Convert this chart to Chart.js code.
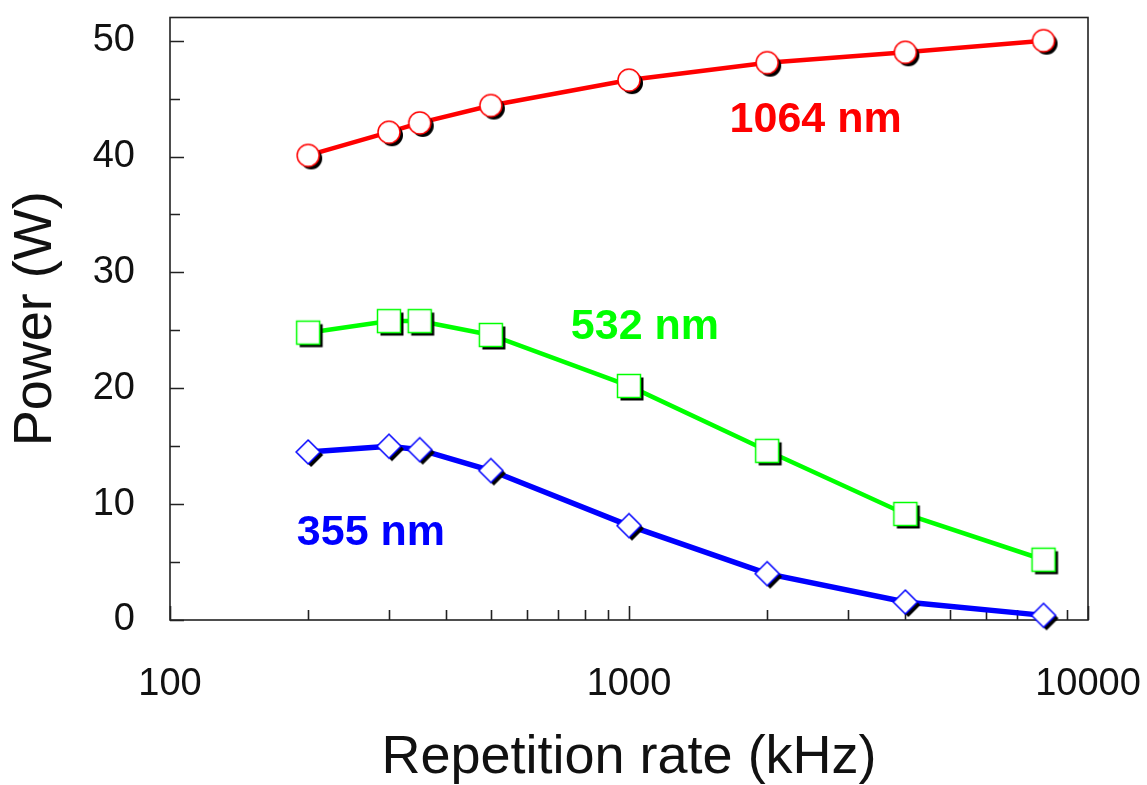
<!DOCTYPE html>
<html><head><meta charset="utf-8">
<script src="https://cdn.jsdelivr.net/npm/chart.js@4"></script>
<style>html,body{margin:0;padding:0;background:#fff;}#wrap{width:1147px;height:785px;}</style>
</head><body><div id="wrap"><canvas id="c" width="1147" height="785"></canvas></div>
<script>
// ---- data ----
const repetitionRates = [200, 300, 350, 500, 1000, 2000, 4000, 8000];
const power1064 = [40.1, 42.1, 42.9, 44.4, 46.6, 48.1, 49.0, 50.0];
const power532  = [24.8, 25.8, 25.8, 24.6, 20.2, 14.6, 9.15, 5.2];
const power355  = [14.5, 15.0, 14.7, 12.9, 8.15, 4.0, 1.55, 0.4];
const seriesNames = ['1064 nm', '532 nm', '355 nm'];
const seriesColors = ['#ff0000', '#00ff00', '#0000ff'];
const labelAtRate = [2550, 1083, 274];
const labelAtPower = [43.1, 25.3, 7.5];
const xTickValues = [100,200,300,400,500,600,700,800,900,1000,2000,3000,4000,5000,6000,7000,8000,9000,10000];
const xTickLabels = ['100', '1000', '10000'];
const yTickValues = [0,5,10,15,20,25,30,35,40,45,50];
const yTickLabels = ['0', '10', '20', '30', '40', '50'];

const FONT = '"Liberation Sans", Arial, sans-serif';

function makeMarker(shape, color) {
  const s = 40, c = document.createElement('canvas');
  c.width = s; c.height = s;
  const ctx = c.getContext('2d');
  const cx = s / 2, cy = s / 2;
  function path(ox, oy) {
    ctx.beginPath();
    if (shape === 'circle') {
      ctx.arc(cx + ox, cy + oy, 11, 0, Math.PI * 2);
    } else if (shape === 'square') {
      ctx.rect(cx + ox - 11.5, cy + oy - 11.5, 23, 23);
    } else {
      const h = 12;
      ctx.moveTo(cx + ox, cy + oy - h);
      ctx.lineTo(cx + ox + h, cy + oy);
      ctx.lineTo(cx + ox, cy + oy + h);
      ctx.lineTo(cx + ox - h, cy + oy);
      ctx.closePath();
    }
  }
  path(3, 3); ctx.fillStyle = '#000'; ctx.fill();
  path(0, 0); ctx.fillStyle = '#fff'; ctx.fill();
  ctx.lineWidth = 1.5; ctx.strokeStyle = color; ctx.stroke();
  return c;
}

const markers = [makeMarker('circle', seriesColors[0]), makeMarker('square', seriesColors[1]), makeMarker('diamond', seriesColors[2])];
const seriesValues = [power1064, power532, power355];
const lineWidths = [4.5, 4.5, 5.5];

const datasets = seriesValues.map((vals, i) => ({
  label: seriesNames[i],
  data: repetitionRates.map((r, j) => ({x: r, y: vals[j]})),
  borderColor: seriesColors[i],
  backgroundColor: seriesColors[i],
  borderWidth: lineWidths[i],
  pointStyle: markers[i],
  pointRadius: 12,
  tension: 0,
  clip: false
}));

function noPad(s) { s.paddingTop = 0; s.paddingBottom = 0; s.paddingLeft = 0; s.paddingRight = 0; }

const framePlugin = {
  id: 'frame',
  beforeDatasetsDraw(chart) {
    const {ctx, chartArea: a, scales: {x, y}} = chart;
    ctx.save();
    ctx.strokeStyle = '#222';
    ctx.lineWidth = 1.6;
    ctx.strokeRect(a.left, a.top, a.right - a.left, a.bottom - a.top);
    ctx.beginPath();
    xTickValues.forEach(v => {
      const px = Math.round(x.getPixelForValue(v)) + 0.5;
      const lg = Math.log10(v);
      const len = Math.abs(lg - Math.round(lg)) < 1e-9 ? 14 : 10;
      ctx.moveTo(px, a.bottom); ctx.lineTo(px, a.bottom - len);
    });
    yTickValues.forEach(v => {
      const py = Math.round(y.getPixelForValue(v)) + 0.5;
      const len = v % 10 === 0 ? 14 : 10;
      ctx.moveTo(a.left, py); ctx.lineTo(a.left + len, py);
    });
    ctx.stroke();
    ctx.font = 'bold 43px ' + FONT;
    ctx.textAlign = 'center';
    ctx.textBaseline = 'middle';
    seriesNames.forEach((n, i) => {
      ctx.fillStyle = seriesColors[i];
      ctx.fillText(n, x.getPixelForValue(labelAtRate[i]), y.getPixelForValue(labelAtPower[i]));
    });
    ctx.restore();
  }
};

new Chart(document.getElementById('c'), {
  type: 'line',
  data: {datasets},
  options: {
    responsive: false,
    animation: false,
    devicePixelRatio: 1,
    layout: {padding: {top: 8, right: 59, left: 0, bottom: 0}},
    plugins: {legend: {display: false}, tooltip: {enabled: false}},
    scales: {
      x: {
        type: 'logarithmic',
        min: 100, max: 10000,
        afterBuildTicks: s => { s.ticks = xTickValues.map(v => ({value: v})); },
        afterFit: s => { s.height = 165; noPad(s); },
        grid: {display: false, drawTicks: false},
        border: {display: false},
        ticks: {
          autoSkip: false, maxRotation: 0, minRotation: 0,
          padding: 46,
          color: '#111',
          font: {family: FONT, size: 38, lineHeight: 1},
          callback: v => { const k = xTickLabels.indexOf(String(v)); return k >= 0 ? xTickLabels[k] : ''; }
        },
        title: {display: true, text: 'Repetition rate (kHz)', color: '#111',
          font: {family: FONT, size: 54, lineHeight: 1}, padding: {top: 0, bottom: 0}}
      },
      y: {
        type: 'linear',
        min: 0, max: 52,
        afterBuildTicks: s => { s.ticks = yTickValues.map(v => ({value: v})); },
        afterFit: s => { s.width = 170; noPad(s); },
        grid: {display: false, drawTicks: false},
        border: {display: false},
        ticks: {
          autoSkip: false,
          padding: 35,
          color: '#111',
          font: {family: FONT, size: 38, lineHeight: 1},
          callback: v => { const k = yTickLabels.indexOf(String(v)); return k >= 0 ? yTickLabels[k] : ''; }
        },
        title: {display: true, text: 'Power (W)', color: '#111',
          font: {family: FONT, size: 54, lineHeight: 1}, padding: {top: 9, bottom: 0}}
      }
    }
  },
  plugins: [framePlugin]
});
</script></body></html>
